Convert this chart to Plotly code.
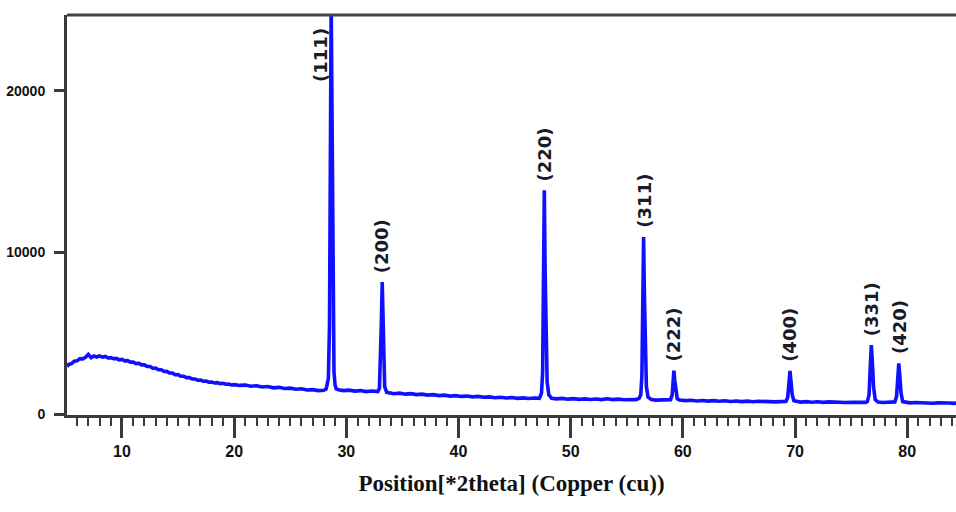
import plotly.graph_objects as go

# ---- data ----
bg_theta = [5.1, 5.25, 5.5, 5.75, 6.0, 6.25, 6.5, 6.75, 7.0, 7.25, 7.5, 7.75, 8.0, 8.25, 8.5, 8.75,
            9.0, 9.25, 9.5, 9.75, 10.0, 10.25, 10.5, 10.75, 11.0, 11.25, 11.5, 11.75, 12.0, 12.25,
            12.5, 12.75, 13.0, 13.25, 13.5, 13.75, 14.0, 14.25, 14.5, 14.75, 15.0, 15.25, 15.5,
            15.75, 16.0, 16.25, 16.5, 16.75, 17.0, 17.25, 17.5, 17.75, 18.0, 18.25, 18.5, 18.75,
            19.0, 19.25, 19.5, 19.75, 20.0, 20.5, 21.0, 21.5, 22.0, 22.5, 23.0, 23.5, 24.0, 24.5,
            25.0, 25.5, 26.0, 26.5, 27.0, 27.5, 28.0,
            29.3, 29.75, 30.25, 30.75, 31.25, 31.75, 32.25, 32.7,
            33.8, 34.25, 34.75, 35.25, 35.75, 36.25, 36.75, 37.25, 37.75, 38.25, 38.75, 39.25,
            39.75, 40.25, 40.75, 41.25, 41.75, 42.25, 42.75, 43.25, 43.75, 44.25, 44.75, 45.25,
            45.75, 46.25, 46.75, 47.2,
            48.3, 48.75, 49.25, 49.75, 50.25, 50.75, 51.25, 51.75, 52.25, 52.75, 53.25, 53.75,
            54.25, 54.75, 55.25, 55.8,
            57.2, 57.6, 58.0, 58.4, 58.8,
            59.7, 60.25, 60.75, 61.25, 61.75, 62.25, 62.75, 63.25, 63.75, 64.25, 64.75, 65.25,
            65.75, 66.25, 66.75, 67.25, 67.75, 68.25, 68.75, 69.0,
            70.1, 70.5, 71.0, 71.5, 72.0, 72.5, 73.0, 73.5, 74.0, 74.5, 75.0, 75.5, 76.0, 76.3,
            77.4, 77.8, 78.2, 78.6,
            79.9, 80.25, 80.75, 81.25, 81.75, 82.25, 82.75, 83.25, 83.75, 84.2, 84.4]
bg_counts = [2950, 3080, 3130, 3280, 3300, 3440, 3420, 3520, 3700, 3500, 3600, 3540, 3610, 3530, 3570, 3480,
             3500, 3430, 3450, 3360, 3390, 3300, 3310, 3220, 3230, 3130, 3150, 3050, 3050, 2950,
             2950, 2840, 2850, 2750, 2750, 2640, 2650, 2550, 2540, 2440, 2450, 2350, 2350,
             2260, 2260, 2180, 2180, 2100, 2110, 2040, 2050, 1980, 1990, 1930, 1950, 1890,
             1910, 1850, 1870, 1810, 1830, 1780, 1800, 1730, 1760, 1680, 1710, 1630, 1660, 1590,
             1610, 1540, 1570, 1500, 1520, 1460, 1480,
             1510, 1460, 1490, 1430, 1460, 1400, 1430, 1390,
             1320, 1270, 1300, 1240, 1270, 1210, 1240, 1180, 1210, 1150, 1180, 1120,
             1150, 1100, 1120, 1070, 1100, 1050, 1070, 1020, 1050, 1000, 1030, 980,
             1010, 970, 1000, 980,
             990, 950, 980, 930, 960, 920, 950, 910, 940, 900, 950, 900,
             930, 890, 920, 900,
             910, 870, 890, 860, 880,
             880, 840, 860, 820, 850, 810, 840, 800, 830, 790, 820, 780,
             810, 770, 800, 770, 790, 760, 780, 770,
             790, 750, 780, 740, 770, 730, 760, 730, 750, 720, 740, 720, 740, 730,
             750, 720, 740, 720,
             730, 700, 720, 690, 710, 680, 700, 670, 690, 670, 690]

pk111_theta = [28.2, 28.4, 28.5, 28.55, 28.6, 28.65, 28.7, 28.75, 28.8, 28.9, 29.0, 29.1]
pk111_counts = [1550, 2200, 5500, 12000, 22000, 25500, 21000, 15500, 7800, 2600, 1800, 1560]

pk200_theta = [32.8, 32.95, 33.05, 33.12, 33.2, 33.27, 33.33, 33.42, 33.6]
pk200_counts = [1400, 1600, 3500, 5500, 8180, 5200, 2800, 1700, 1350]

pk220_theta = [47.25, 47.4, 47.5, 47.58, 47.65, 47.72, 47.8, 47.9, 48.05]
pk220_counts = [1050, 1300, 2600, 7500, 13860, 9000, 4200, 2000, 1200]

pk311_theta = [56.1, 56.25, 56.35, 56.43, 56.5, 56.57, 56.65, 56.75, 56.9]
pk311_counts = [980, 1200, 2400, 6500, 10960, 7500, 3500, 1700, 1050]

pk222_theta = [58.9, 59.05, 59.13, 59.2, 59.28, 59.38, 59.5]
pk222_counts = [900, 1200, 2000, 2700, 2100, 1300, 950]

pk400_theta = [69.2, 69.35, 69.45, 69.55, 69.63, 69.75, 69.9]
pk400_counts = [800, 1050, 1900, 2680, 2100, 1200, 830]

pk331_theta = [76.45, 76.6, 76.7, 76.8, 76.88, 77.0, 77.15]
pk331_counts = [780, 1200, 2800, 4280, 3400, 1700, 900]

pk420_theta = [78.9, 79.05, 79.15, 79.25, 79.33, 79.45, 79.6]
pk420_counts = [760, 1100, 2200, 3150, 2500, 1300, 780]

peak_labels = ["(111)", "(200)", "(220)", "(311)", "(222)", "(400)", "(331)", "(420)"]
peak_theta = [28.65, 33.2, 47.65, 56.5, 59.2, 69.55, 76.8, 79.25]
peak_counts = [25500, 8180, 13860, 10960, 2700, 2680, 4280, 3150]

y_tickvals = [0, 10000, 20000]
y_ticktext = ["0", "10000", "20000"]
x_tickvals = [10, 20, 30, 40, 50, 60, 70, 80]

# ---- merge the pattern ----
pts = list(zip(bg_theta, bg_counts))
for tx, cy in [(pk111_theta, pk111_counts), (pk200_theta, pk200_counts), (pk220_theta, pk220_counts),
               (pk311_theta, pk311_counts), (pk222_theta, pk222_counts), (pk400_theta, pk400_counts),
               (pk331_theta, pk331_counts), (pk420_theta, pk420_counts)]:
    pts += list(zip(tx, cy))
pts.sort()
xs = [p[0] for p in pts]
ys = [p[1] for p in pts]

fig = go.Figure()
fig.add_trace(go.Scatter(x=xs, y=ys, mode="lines",
                         line=dict(color="#1010ff", width=3.6), showlegend=False,
                         hoverinfo="skip"))

label_font = dict(family="DejaVu Sans", size=18, color="#1a1a2a")
for i, (lab, px, py) in enumerate(zip(peak_labels, peak_theta, peak_counts)):
    if i == 0:
        fig.add_annotation(x=px - 0.95, y=22200, text="<b>%s</b>" % lab, showarrow=False,
                           textangle=-90, xanchor="center", yanchor="middle", font=label_font)
    else:
        fig.add_annotation(x=px, y=py, text="<b>%s</b>" % lab, showarrow=False,
                           textangle=-90, xanchor="center", yanchor="bottom", yshift=7,
                           font=label_font)

# top border line
fig.add_shape(type="line", xref="paper", yref="paper", x0=0, x1=1, y0=1, y1=1,
              line=dict(color="#444444", width=3))

axis_col = "#3a3a3a"
fig.update_xaxes(range=[5.1, 84.35], showgrid=False, zeroline=False,
                 showline=True, linecolor=axis_col, linewidth=3,
                 ticks="outside", ticklen=20, tickwidth=3, tickcolor=axis_col,
                 tickvals=x_tickvals, ticktext=["<b>%d</b>" % v for v in x_tickvals],
                 tickfont=dict(family="Liberation Sans Narrow, Liberation Sans", size=16, color="#111"),
                 minor=dict(ticks="outside", ticklen=8, tickwidth=2, tickcolor=axis_col, dtick=1, tick0=0),
                 title=dict(text="<b>Position[*2theta] (Copper (cu))</b>",
                            font=dict(family="Liberation Serif", size=23, color="#111"),
                            standoff=16))
fig.update_yaxes(range=[-50, 24700], showgrid=False, zeroline=False,
                 showline=True, linecolor=axis_col, linewidth=3,
                 ticks="outside", ticklen=10, tickwidth=3, tickcolor=axis_col,
                 tickvals=y_tickvals, ticktext=["<b>%s</b>" % t for t in y_ticktext],
                 tickfont=dict(family="Liberation Sans Narrow, Liberation Sans", size=14, color="#111"),
                 ticklabelstandoff=6)

fig.update_layout(width=956, height=512, margin=dict(l=67, r=0, t=15, b=97),
                  plot_bgcolor="white", paper_bgcolor="white")

fig.write_html("out.html", config={"displayModeBar": False},
               post_script="document.body.style.margin='0px';document.body.style.overflow='hidden';")
